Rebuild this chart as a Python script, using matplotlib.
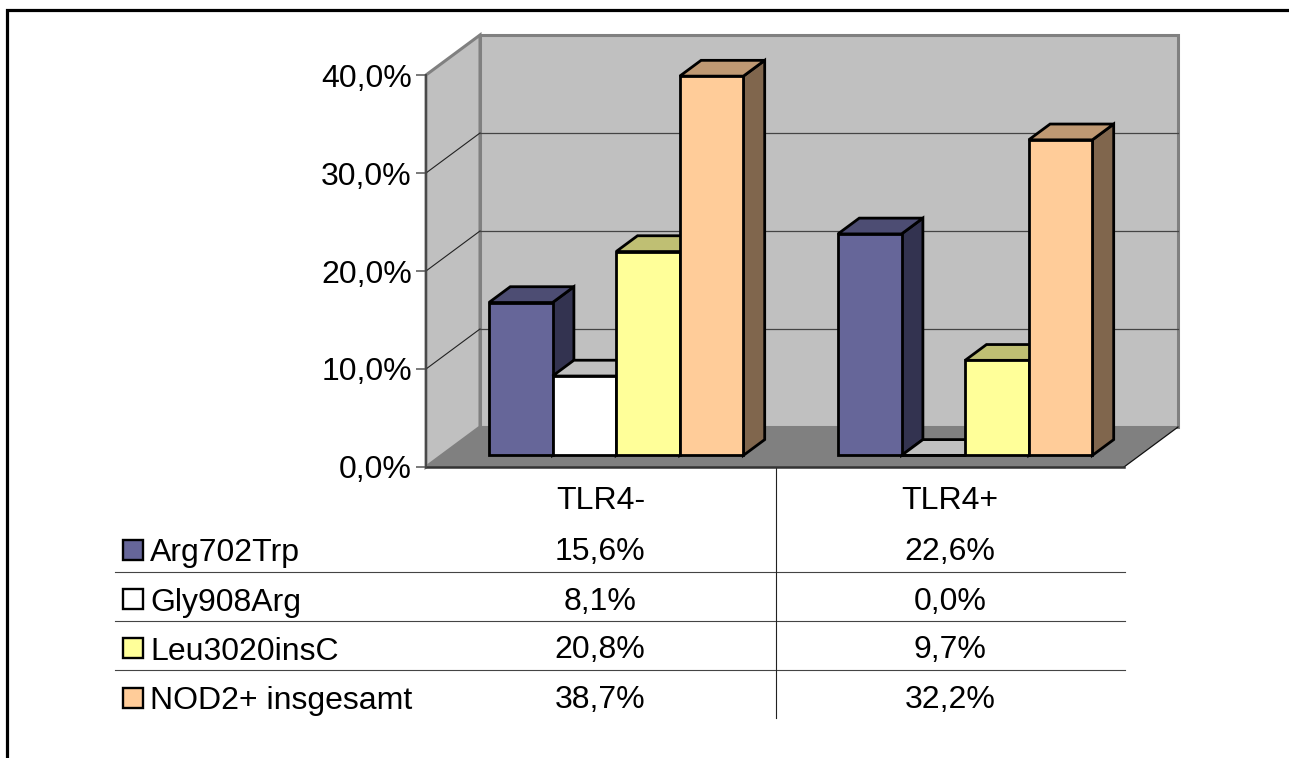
"""3D style clustered bars of NOD2 variants by TLR4 status, with data table."""

import matplotlib
matplotlib.use('Agg')
import matplotlib.pyplot as plt
from matplotlib.patches import Polygon, Rectangle

plt.rcParams['font.family'] = ['Liberation Sans', 'DejaVu Sans']

categories = ['TLR4-', 'TLR4+']
series_names = ['Arg702Trp', 'Gly908Arg', 'Leu3020insC', 'NOD2+ insgesamt']
arg702trp = [15.6, 22.6]
gly908arg = [8.1, 0.0]
leu3020insc = [20.8, 9.7]
nod2_total = [38.7, 32.2]
y_ticks = [0, 10, 20, 30, 40]

series_values = [arg702trp, gly908arg, leu3020insc, nod2_total]

FRONT = ['#666699', '#FFFFFF', '#FFFF99', '#FFCC99']
TOP = ['#4D4D73', '#C0C0C0', '#BFBF73', '#BF9973']
SIDE = ['#333350', '#808080', '#808050', '#80664D']

W, H = 1289, 758
FS = 23

# depth of the box, in data units (categories / percent)
DX = 54 / 349.0
DY = 40 / 9.8
BAR_W = 63.6 / 349.0
BAR_D0, BAR_D1 = 0.29, 0.685


def proj(x, y, d=0.0):
    return (x + d * DX, y + d * DY)


def pct(v):
    return f'{v:.1f}%'.replace('.', ',')


fig = plt.figure(figsize=(W / 100, H / 100), dpi=100)

# pixel canvas for the outer frame and the data table
bg = fig.add_axes([0, 0, 1, 1])
bg.set_xlim(0, W)
bg.set_ylim(H, 0)
bg.axis('off')

bg.plot([7.3, 7.3, W], [H, 9.5, 9.5], color='black', lw=2.3, solid_joinstyle='miter')

for y in [571.5, 620.5, 669.5]:
    bg.plot([115, 1125], [y, y], color='#444444', lw=0.8)
bg.plot([775.5, 775.5], [467, 718], color='#222222', lw=0.8)

row_y = [550, 599, 648, 698]
for i, name in enumerate(series_names):
    bg.add_patch(Rectangle((122.5, row_y[i] - 10), 20, 20, facecolor=FRONT[i],
                           edgecolor='black', lw=1.7))
    bg.text(150, row_y[i], name, fontsize=FS, va='center_baseline', ha='left')
    for j, x in enumerate([600, 950]):
        bg.text(x, row_y[i] - 1, pct(series_values[i][j]), fontsize=FS,
                va='center_baseline', ha='center')

# main axes sit on the front plane of the box
ax = fig.add_axes([426 / W, (H - 467) / H, 698 / W, 392 / H])
ax.patch.set_visible(False)
ax.set_xlim(0, len(categories))
ax.set_ylim(0, 40)

ymax = y_ticks[-1]
xmax = len(categories)

# walls and floor
ax.add_patch(Polygon([proj(0, 0, 1), proj(xmax, 0, 1), proj(xmax, ymax, 1), proj(0, ymax, 1)],
                     facecolor='#C0C0C0', edgecolor='#808080', lw=2.2, clip_on=False, zorder=1))
ax.add_patch(Polygon([proj(0, 0), proj(0, 0, 1), proj(0, ymax, 1), proj(0, ymax)],
                     facecolor='#C0C0C0', edgecolor='#808080', lw=2.2, clip_on=False, zorder=1))
ax.add_patch(Polygon([proj(0, 0), proj(xmax, 0), proj(xmax, 0, 1), proj(0, 0, 1)],
                     facecolor='#808080', edgecolor='none', clip_on=False, zorder=1.5))
ax.plot(*zip(proj(xmax, 0), proj(xmax, 0, 1)), color='#111111', lw=0.9, clip_on=False, zorder=1.6)
ax.plot([0, xmax], [0, 0], color='#333333', lw=1.8, clip_on=False, zorder=1.6)

# gridlines run along the side wall and the back wall
for t in y_ticks[1:-1]:
    pts = [proj(0, t), proj(0, t, 1), proj(xmax, t, 1)]
    ax.plot(*zip(pts[0], pts[1]), color='#222222', lw=0.8, clip_on=False, zorder=2)
    ax.plot(*zip(pts[1], pts[2]), color='#444444', lw=0.9, clip_on=False, zorder=2)

# bars, left to right so each one hides the side of its neighbour
z = 3
for c in range(len(categories)):
    start = c + 0.5 - 2 * BAR_W
    for i, vals in enumerate(series_values):
        x0 = start + i * BAR_W
        x1 = x0 + BAR_W
        v = vals[c]
        style = dict(edgecolor='black', lw=2.0, joinstyle='miter', clip_on=False, zorder=z)
        ax.add_patch(Polygon([proj(x1, 0, BAR_D0), proj(x1, 0, BAR_D1),
                              proj(x1, v, BAR_D1), proj(x1, v, BAR_D0)],
                             facecolor=SIDE[i], **style))
        ax.add_patch(Polygon([proj(x0, v, BAR_D0), proj(x1, v, BAR_D0),
                              proj(x1, v, BAR_D1), proj(x0, v, BAR_D1)],
                             facecolor=TOP[i], **style))
        ax.add_patch(Polygon([proj(x0, 0, BAR_D0), proj(x1, 0, BAR_D0),
                              proj(x1, v, BAR_D0), proj(x0, v, BAR_D0)],
                             facecolor=FRONT[i], **style))
        z += 1

for spine in ['top', 'right', 'bottom']:
    ax.spines[spine].set_visible(False)
ax.spines['left'].set_color('#444444')
ax.spines['left'].set_linewidth(1.3)
ax.spines['left'].set_zorder(2)

ax.set_yticks(y_ticks)
ax.set_yticklabels([pct(t) for t in y_ticks], fontsize=FS)
ax.tick_params(axis='y', length=7.2, width=1.1, color='#555555', pad=3)

ax.set_xticks([c + 0.5 for c in range(len(categories))])
ax.set_xticklabels(categories, fontsize=FS)
ax.tick_params(axis='x', length=0, pad=13.5)

fig.savefig('out.png', dpi=100)
